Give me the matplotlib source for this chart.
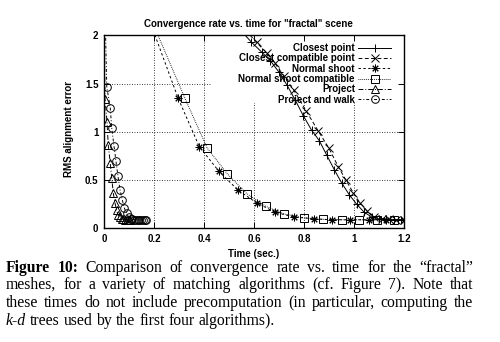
import matplotlib
matplotlib.use("Agg")
import matplotlib.pyplot as plt
from matplotlib.patches import Rectangle

# error vs time for each matching algorithm
closest_t = [0.53, 0.59, 0.63, 0.665, 0.70, 0.731, 0.765, 0.797, 0.83, 0.861, 0.891,
             0.921, 0.951, 0.981, 1.011, 1.04, 1.07, 1.10, 1.13, 1.16, 1.19]
closest_e = [2.10, 1.93, 1.83, 1.74, 1.62, 1.49, 1.33, 1.17, 1.02, 0.91, 0.76,
             0.61, 0.47, 0.35, 0.25, 0.17, 0.12, 0.10, 0.095, 0.09, 0.09]

compat_t = [0.55, 0.61, 0.65, 0.684, 0.72, 0.76, 0.808, 0.857, 0.90, 0.937, 0.968,
            0.997, 1.024, 1.053, 1.08, 1.11, 1.14, 1.17, 1.20]
compat_e = [2.10, 1.93, 1.82, 1.71, 1.58, 1.43, 1.22, 1.01, 0.83, 0.64, 0.50,
            0.37, 0.265, 0.18, 0.12, 0.10, 0.095, 0.09, 0.09]

shoot_t = [0.19, 0.297, 0.381, 0.46, 0.537, 0.611, 0.684, 0.758, 0.838, 0.912,
           0.985, 1.06, 1.13, 1.2]
shoot_e = [2.10, 1.347, 0.849, 0.591, 0.395, 0.265, 0.168, 0.12, 0.10, 0.09,
           0.09, 0.09, 0.09, 0.09]

shootc_t = [0.20, 0.324, 0.413, 0.493, 0.571, 0.647, 0.72, 0.80, 0.875, 0.95,
            1.02, 1.09, 1.16]
shootc_e = [2.10, 1.347, 0.832, 0.567, 0.361, 0.23, 0.15, 0.11, 0.095, 0.09,
            0.09, 0.09, 0.09]

proj_t = [0.0, 0.004, 0.012, 0.017, 0.025, 0.031, 0.037, 0.044, 0.05, 0.056,
          0.063, 0.07, 0.077, 0.084, 0.091, 0.098, 0.105]
proj_e = [2.4, 1.34, 1.106, 0.866, 0.677, 0.52, 0.368, 0.265, 0.19, 0.14,
          0.115, 0.10, 0.095, 0.09, 0.09, 0.09, 0.09]

walk_t = [0.003, 0.011, 0.025, 0.031, 0.04, 0.048, 0.056, 0.064, 0.073, 0.081,
          0.09, 0.098, 0.106, 0.113, 0.12, 0.127, 0.134, 0.141, 0.148, 0.155,
          0.162, 0.168]
walk_e = [2.4, 1.47, 1.25, 1.04, 0.856, 0.694, 0.54, 0.40, 0.30, 0.213,
          0.16, 0.12, 0.10, 0.095, 0.09, 0.09, 0.09, 0.09, 0.09, 0.09,
          0.09, 0.09]

xticks = [0, 0.2, 0.4, 0.6, 0.8, 1.0, 1.2]
xticklabels = ["0", "0.2", "0.4", "0.6", "0.8", "1", "1.2"]
yticks = [0, 0.5, 1.0, 1.5, 2.0]
yticklabels = ["0", "0.5", "1", "1.5", "2"]

sans = "Liberation Sans"
serif = "Liberation Serif"
fs = 7

fig = plt.figure(figsize=(5, 3.42), dpi=100)
ax = fig.add_axes([0.208, 0.332, 0.6, 0.5643])

lw = 0.7
ms = 5.5
common = dict(color="black", lw=lw, mew=0.7, ms=ms, mfc="none", zorder=3)
ax.plot(closest_t, closest_e, marker="+", ls="-", label="Closest point", **common)
ax.plot(compat_t, compat_e, marker="x", dashes=(4, 2.5), label="Closest compatible point", **common)
ax.plot(shoot_t, shoot_e, marker=(8, 2, 0), dashes=(2.5, 2.5), label="Normal shoot", **common)
ax.plot(shootc_t, shootc_e, marker="s", dashes=(0.8, 1.2), label="Normal shoot compatible", **common)
ax.plot(proj_t, proj_e, marker="^", dashes=(5, 2, 1, 2), label="Project", **common)
ax.plot(walk_t, walk_e, marker="o", dashes=(3, 2, 1, 2), label="Project and walk", **common)

ax.set_xlim(0, 1.2)
ax.set_ylim(0, 2)

# dotted grid, hidden behind the key area like gnuplot does
for x in xticks[1:-1]:
    ax.axvline(x, color="black", lw=0.6, ls=(0, (1, 2)), zorder=1)
for y in yticks[1:-1]:
    ax.axhline(y, color="black", lw=0.6, ls=(0, (1, 2)), zorder=1)
ax.add_patch(Rectangle((0.357, 0.65), 0.643, 0.35, transform=ax.transAxes,
                       facecolor="white", edgecolor="none", zorder=1.2))

ax.set_xticks(xticks)
ax.set_xticklabels(xticklabels)
ax.set_yticks(yticks)
ax.set_yticklabels(yticklabels)
ax.tick_params(direction="in", length=4.3, width=0.7, top=True, right=True,
               pad=4, labelsize=fs)
for lab in ax.get_xticklabels() + ax.get_yticklabels():
    lab.set_fontfamily(sans)
    lab.set_fontweight("bold")
for s in ax.spines.values():
    s.set_linewidth(1.0)

leg = ax.legend(loc="upper right", bbox_to_anchor=(0.958, 0.96), frameon=False,
                markerfirst=False, handlelength=3.4, handletextpad=0.35,
                labelspacing=0.03, borderpad=0, borderaxespad=0, numpoints=1,
                prop=dict(family=sans, weight="bold", size=fs))
leg.set_zorder(2.5)

fig.text(0.497, 1 - 24 / 342, 'Convergence rate vs. time for "fractal" scene',
         ha="center", va="center", fontsize=fs, fontweight="bold", family=sans)
fig.text(0.508, 1 - 254 / 342, "Time (sec.)", ha="center", va="center",
         fontsize=fs, fontweight="bold", family=sans)
fig.text(0.138, 1 - 129 / 342, "RMS alignment error", ha="center", va="center",
         rotation=90, fontsize=fs, fontweight="bold", family=sans)

# caption, justified word by word
cap_fs = 11.3
caption = [
    [("Figure", "bold", "normal"), ("10:", "bold", "normal"), ("Comparison", "normal", "normal"),
     ("of", "normal", "normal"), ("convergence", "normal", "normal"), ("rate", "normal", "normal"),
     ("vs.", "normal", "normal"), ("time", "normal", "normal"), ("for", "normal", "normal"),
     ("the", "normal", "normal"), ("\u201cfractal\u201d", "normal", "normal")],
    [(w, "normal", "normal") for w in
     "meshes, for a variety of matching algorithms (cf. Figure 7).  Note that".split()],
    [(w, "normal", "normal") for w in
     "these times do not include precomputation (in particular, computing the".split()],
    [("k-d", "normal", "italic")] + [(w, "normal", "normal") for w in
     "trees used by the first four algorithms).".split()],
]
baselines = [272, 289, 307, 325]
x0, x1 = 6, 473
r = fig.canvas.get_renderer()
for i, (words, yb) in enumerate(zip(caption, baselines)):
    ts = [fig.text(0, 1 - yb / 342, w, fontsize=cap_fs, family=serif, fontweight=wt,
                   fontstyle=st, va="baseline", ha="left") for w, wt, st in words]
    widths = [t.get_window_extent(r).width for t in ts]
    if i < len(caption) - 1:
        gap = (x1 - x0 - sum(widths)) / (len(ts) - 1)
    else:
        gap = 0.25 * cap_fs * 100 / 72
    x = x0
    for t, w in zip(ts, widths):
        t.set_x(x / 500)
        x += w + gap

fig.savefig("out.png", dpi=100)
